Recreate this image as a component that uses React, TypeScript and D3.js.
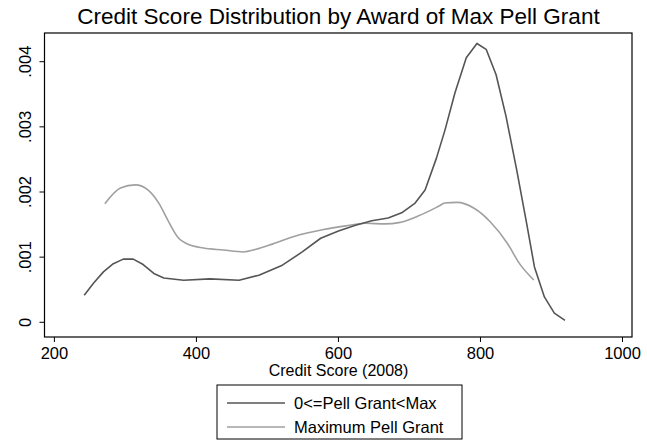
import React from "react";
import * as d3 from "d3";

const titleText = "Credit Score Distribution by Award of Max Pell Grant";
const xTitle = "Credit Score (2008)";
const xTicks = [200, 400, 600, 800, 1000];
const yTicks = [0, 0.001, 0.002, 0.003, 0.004];
const yTickLabels = ["0", ".001", ".002", ".003", ".004"];
const seriesNames = ["0<=Pell Grant<Max", "Maximum Pell Grant"];
const seriesColors = ["#555555", "#a0a0a0"];

const darkX = [242, 255, 269, 283, 297, 311, 325, 340, 354, 382, 419, 460, 488, 521, 549, 575, 600, 624, 647, 670, 689, 708, 722, 738, 750, 764, 780, 795, 808, 822, 836, 851, 865, 876, 890, 904, 919];
const darkY = [0.000415, 0.0006, 0.000774, 0.0009, 0.00097, 0.00097, 0.000887, 0.00075, 0.00068, 0.000646, 0.000667, 0.000646, 0.000723, 0.000877, 0.00108, 0.00129, 0.0014, 0.00149, 0.00156, 0.0016, 0.00168, 0.00183, 0.00203, 0.00252, 0.00295, 0.00352, 0.00406, 0.00428, 0.00419, 0.0038, 0.00316, 0.00234, 0.00152, 0.00085, 0.00039, 0.00014, 0.00003];

const grayX = [271, 293, 314, 332, 347, 361, 375, 386, 410, 438, 466, 484, 507, 544, 577, 610, 638, 666, 685, 712, 741, 750, 767, 791, 814, 838, 855, 875];
const grayY = [0.00182, 0.00206, 0.00211, 0.00203, 0.00183, 0.00154, 0.00129, 0.00121, 0.00114, 0.00111, 0.00108, 0.00112, 0.0012, 0.00134, 0.00142, 0.00148, 0.00152, 0.00151, 0.00153, 0.00163, 0.00178, 0.00183, 0.00184, 0.00175, 0.00154, 0.00121, 0.0009, 0.00065];

export default function App() {
  const W = 647, H = 441;
  const frame = { left: 44.5, right: 632, top: 33, bottom: 337 };
  const x = d3.scaleLinear().domain([200, 1000]).range([54.4, 622.5]);
  const y = d3.scaleLinear().domain([0, 0.004]).range([322.3, 61.7]);
  const darkLine = d3.line<[number, number]>().x(d => x(d[0])).y(d => y(d[1]));
  const grayLine = d3.line<[number, number]>().x(d => x(d[0])).y(d => y(d[1])).curve(d3.curveMonotoneX);
  const dark: [number, number][] = darkX.map((v, i) => [v, darkY[i]]);
  const gray: [number, number][] = grayX.map((v, i) => [v, grayY[i]]);
  const font = "'Liberation Sans', Arial, sans-serif";
  const legend = { left: 217, right: 462, top: 385, bottom: 439 };
  return (
    <svg width={W} height={H} style={{ position: "absolute", left: 0, top: 0, background: "#fff" }} fontFamily={font}>
      <rect x={0} y={0} width={W} height={H} fill="#fff" />
      <text x={338.5} y={24} textAnchor="middle" fontSize={22.5} fill="#000">{titleText}</text>
      <rect x={frame.left} y={frame.top} width={frame.right - frame.left} height={frame.bottom - frame.top} fill="none" stroke="#000" strokeWidth={1.2} />
      <path d={grayLine(gray) || ""} fill="none" stroke={seriesColors[1]} strokeWidth={1.6} strokeLinejoin="round" />
      <path d={darkLine(dark) || ""} fill="none" stroke={seriesColors[0]} strokeWidth={1.6} strokeLinejoin="round" />
      {yTicks.map((t, i) => (
        <g key={"y" + i}>
          <line x1={frame.left - 5} x2={frame.left} y1={y(t)} y2={y(t)} stroke="#000" strokeWidth={1} />
          <text transform={`translate(31,${y(t)}) rotate(-90)`} textAnchor="middle" fontSize={16.5} fill="#000">{yTickLabels[i]}</text>
        </g>
      ))}
      {xTicks.map((t, i) => (
        <g key={"x" + i}>
          <line x1={x(t)} x2={x(t)} y1={frame.bottom} y2={frame.bottom + 5} stroke="#000" strokeWidth={1} />
          <text x={x(t)} y={359} textAnchor="middle" fontSize={16.5} fill="#000">{String(t)}</text>
        </g>
      ))}
      <text x={338.5} y={376} textAnchor="middle" fontSize={16} fill="#000">{xTitle}</text>
      <rect x={legend.left} y={legend.top} width={legend.right - legend.left} height={legend.bottom - legend.top} fill="#fff" stroke="#000" strokeWidth={1} />
      {seriesNames.map((n, i) => (
        <g key={"l" + i}>
          <line x1={227} x2={285} y1={403 + i * 24} y2={403 + i * 24} stroke={seriesColors[i]} strokeWidth={1.6} />
          <text x={294} y={409 + i * 24} fontSize={16.5} fill="#000">{n}</text>
        </g>
      ))}
    </svg>
  );
}
